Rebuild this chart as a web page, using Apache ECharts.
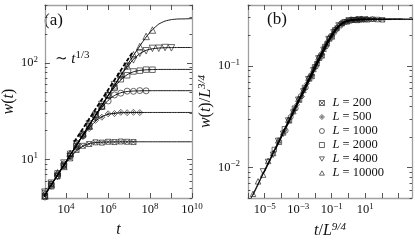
<!DOCTYPE html>
<html><head><meta charset="utf-8">
<script src="https://cdn.jsdelivr.net/npm/echarts@6/dist/echarts.min.js"></script>
<style>html,body{margin:0;padding:0;background:#fff}#c{width:415px;height:245px}</style>
</head><body><div id="c"></div>
<script>
// ---------- data ----------
const sizes = [200, 500, 1000, 2000, 4000, 10000];
const times = [1e3, 2e3, 4e3, 8e3, 1.6e4, 3.2e4, 6.4e4, 1.28e5, 2.56e5, 5.12e5, 1.024e6, 2.048e6, 4.096e6, 8.192e6, 1.6384e7, 3.2768e7, 6.5536e7, 1.31072e8, 2.62144e8, 5.24288e8, 1.048576e9];
const w200 = [4.2, 5.6, 6.7, 8.8, 10.3, 12.6, 13.9, 14.5, 15.1, 15.0, 15.3, 15.2, 15.4, 15.3, 15.2];
const w500 = [4.4, 5.3, 7.1, 8.6, 11.4, 13.7, 17.8, 21.0, 25.5, 27.5, 29.8, 30.0, 30.9, 30.6, 30.9, 30.7];
const w1000 = [4.1, 5.6, 6.8, 9.0, 10.9, 14.4, 17.6, 23.0, 27.8, 35.3, 40.5, 46.8, 48.8, 51.2, 51.0, 51.9, 51.6];
const w2000 = [4.5, 5.3, 7.2, 8.6, 11.5, 13.8, 18.4, 22.3, 29.4, 35.8, 46.5, 55.4, 68.0, 74.8, 81.9, 83.5, 85.6, 85.4];
const w4000 = [4.6, 5.7, 6.7, 9.2, 10.8, 14.6, 17.5, 23.4, 28.3, 37.3, 45.7, 59.8, 72.6, 92.8, 108.0, 126.5, 134.3, 142.0, 142.5, 145.0, 144.0];
const w10000 = [4.2, 5.5, 7.3, 8.5, 11.6, 13.9, 18.5, 22.2, 29.6, 36.0, 47.5, 58.2, 76.5, 93.6, 122.0, 148.5, 189.0, 220.0];

const fitTimes = [2.5e2, 5e2, 1e3, 2e3, 4e3, 8e3, 1.6e4, 3.2e4, 6.4e4, 1.28e5, 2.56e5, 5.12e5, 1.024e6, 2.048e6, 4.096e6, 8.192e6, 1.6384e7, 3.2768e7, 6.5536e7, 1.31072e8, 2.62144e8, 5.24288e8, 1.048576e9, 2.097152e9, 4.194304e9, 8.388608e9, 1e10];
const fit200 = [2.67, 3.38, 4.29, 5.44, 6.86, 8.57, 10.49, 12.34, 13.77, 14.63, 15.01, 15.14, 15.22, 15.26, 15.28, 15.29, 15.3, 15.3, 15.3, 15.3, 15.3, 15.3, 15.3, 15.3, 15.3, 15.3, 15.3];
const fit500 = [2.67, 3.38, 4.30, 5.46, 6.92, 8.78, 11.11, 14.01, 17.48, 21.35, 25.04, 27.84, 29.49, 30.21, 30.6, 30.72, 30.77, 30.8, 30.8, 30.8, 30.8, 30.8, 30.8, 30.8, 30.8, 30.8, 30.8];
const fit1000 = [2.67, 3.38, 4.30, 5.46, 6.93, 8.79, 11.15, 14.14, 17.91, 22.59, 28.24, 34.69, 41.09, 46.15, 49.27, 50.77, 51.34, 51.6, 51.72, 51.77, 51.8, 51.8, 51.8, 51.8, 51.8, 51.8, 51.8];
const fit2000 = [2.67, 3.38, 4.30, 5.46, 6.93, 8.79, 11.16, 14.16, 17.96, 22.77, 28.81, 36.40, 45.65, 56.28, 66.97, 75.73, 81.3, 84.0, 85.2, 85.7, 85.9, 86, 86, 86, 86, 86, 86];
const fit4000 = [2.67, 3.38, 4.30, 5.46, 6.93, 8.79, 11.16, 14.16, 17.97, 22.8, 28.9, 36.6, 46.48, 58.8, 73.8, 91.3, 109.6, 125.1, 135.7, 140.8, 143.2, 144.3, 144.8, 145, 145, 145, 145];
const fit10000 = [2.67, 3.38, 4.30, 5.46, 6.93, 8.79, 11.16, 14.16, 17.97, 22.8, 28.9, 36.7, 46.6, 59.17, 75.0, 95.0, 120.1, 150.1, 186.1, 222, 253.7, 272.7, 282.2, 286.3, 287.1, 288.6, 288.8];

const dashTimes = [2.5e4, 1.5e7];
const dashW = [15.3, 130];

// axis ticks (decade exponents) and labels
const xMajorA = [3, 4, 5, 6, 7, 8, 9, 10];
const xLabelA = [4, 6, 8, 10];
const yMajorA = [1, 2];
const yMinorA = [4, 5, 6, 7, 8, 9, 20, 30, 40, 50, 60, 70, 80, 90, 200, 300, 400];
const xMajorB = [-6, -5, -4, -3, -2, -1, 0, 1, 2, 3];
const xLabelB = [-5, -3, -1, 1];
const yMajorB = [-2, -1];
const yMinorB = [0.005, 0.006, 0.007, 0.008, 0.009, 0.02, 0.03, 0.04, 0.05, 0.06, 0.07, 0.08, 0.09, 0.2, 0.3, 0.4];

// ---------- build ----------
const LG = Math.log10;
const F = '"Liberation Serif", "DejaVu Serif", serif';
const wData = [w200, w500, w1000, w2000, w4000, w10000];
const fitData = [fit200, fit500, fit1000, fit2000, fit4000, fit10000];
const symbols = [
  'path://M0,0H10V10H0Z M0,0L10,10 M10,0L0,10',
  'path://M5,0L10,5L5,10L0,5Z M5,2.5V7.5 M2.5,5H7.5',
  'circle',
  'rect',
  'path://M0,0L10,0L5,8.66Z',
  'path://M5,0L10,8.66L0,8.66Z'
];
const symSizeA = [5, 6, 6, 5.5, 6.5, 6.5];
const symSizeB = [4.5, 5, 5, 4.5, 5.5, 5.5];

const frameColor = '#a0a0a0';
const tickColor = '#444';
const pow = e => `{b|10}{s|${e < 0 ? '\u2212' + (-e) : e}}`;
const labelRich = {
  b: { fontFamily: F, fontSize: 12.5, lineHeight: 16, color: '#111' },
  s: { fontFamily: F, fontSize: 9, lineHeight: 8, verticalAlign: 'top', color: '#111' }
};
const nameRich = {
  i: { fontFamily: F, fontSize: 16, fontStyle: 'italic', color: '#111', lineHeight: 18 },
  n: { fontFamily: F, fontSize: 16, color: '#111', lineHeight: 18 },
  s: { fontFamily: F, fontSize: 11, fontStyle: 'italic', color: '#111', lineHeight: 10, verticalAlign: 'top' }
};

function xAxes(g, min, max, majors, labels, name) {
  return [
    { type: 'value', gridIndex: g, min, max, position: 'bottom',
      axisLine: { show: true, lineStyle: { color: frameColor, width: 1.3 } },
      axisTick: { show: true, inside: true, length: 5, customValues: majors, lineStyle: { color: tickColor, width: 0.9 } },
      axisLabel: { show: true, margin: 4, customValues: labels, formatter: v => pow(v), rich: labelRich },
      splitLine: { show: false },
      name, nameLocation: 'middle', nameGap: 20, nameTextStyle: { rich: nameRich } },
    { type: 'value', gridIndex: g, min, max, position: 'top',
      axisLine: { show: true, lineStyle: { color: frameColor, width: 1.3 } },
      axisTick: { show: true, inside: true, length: 5, customValues: majors, lineStyle: { color: tickColor, width: 0.9 } },
      axisLabel: { show: false }, splitLine: { show: false } }
  ];
}
function yAxes(g, min, max, majors, minors, name, nameGap, labelMargin) {
  const mk = (pos, ticks, len, withLabel, line) => ({
    type: 'value', gridIndex: g, min, max, position: pos,
    axisLine: { show: line, onZero: false, lineStyle: { color: frameColor, width: 1.3 } },
    axisTick: { show: true, inside: true, length: len, customValues: ticks, lineStyle: { color: tickColor, width: 0.9 } },
    axisLabel: withLabel ? { show: true, margin: labelMargin, customValues: majors, formatter: v => pow(v), rich: labelRich } : { show: false },
    splitLine: { show: false }
  });
  const main = mk('left', majors, 5, true, true);
  main.name = name; main.nameLocation = 'middle'; main.nameGap = nameGap; main.nameRotate = 90;
  main.nameTextStyle = { rich: nameRich };
  const mnr = minors.map(LG);
  return [main, mk('left', mnr, 2.5, false, false), mk('right', majors, 5, false, true), mk('right', mnr, 2.5, false, false)];
}

const xAxis = [
  ...xAxes(0, 3, 10, xMajorA, xLabelA, '{i|t}'),
  ...xAxes(1, -6, 3.8, xMajorB, xLabelB, '{i|t}{n|/}{i|L}{s|9/4}')
];
const yAxis = [
  ...yAxes(0, LG(4), LG(400), yMajorA, yMinorA, '{i|w}{n|(}{i|t}{n|)}', 11, 7),
  ...yAxes(1, LG(0.005), LG(0.4), yMajorB, yMinorB, '{i|w}{n|(}{i|t}{n|)/}{i|L}{s|3/4}', 3, 8)
];

const hollow = { color: 'rgba(0,0,0,0)', borderColor: '#222', borderWidth: 0.85 };
const series = [];
sizes.forEach((L, i) => {
  const lx = 2.25 * LG(L), ly = 0.75 * LG(L);
  const w = wData[i];
  const ptsA = w.map((v, k) => [LG(times[k]), LG(v)]);
  const ptsB = w.map((v, k) => [LG(times[k]) - lx, LG(v) - ly]);
  const fitA = fitData[i].map((v, k) => [LG(fitTimes[k]), LG(v)]);
  const fitB = fitData[i].map((v, k) => [LG(fitTimes[k]) - lx, LG(v) - ly]);
  series.push({ type: 'scatter', name: String(L), xAxisIndex: 0, yAxisIndex: 0, data: ptsA,
    symbol: symbols[i], symbolSize: symSizeA[i], itemStyle: hollow, z: 2 });
  series.push({ type: 'scatter', name: String(L), xAxisIndex: 2, yAxisIndex: 4, data: ptsB,
    symbol: symbols[i], symbolSize: symSizeB[i], itemStyle: hollow, z: 2 });
  series.push({ type: 'line', name: 'fitA' + L, xAxisIndex: 0, yAxisIndex: 0, data: fitA,
    symbol: 'none', smooth: 0.2, lineStyle: { color: '#000', width: 0.9 }, z: 3 });
  series.push({ type: 'line', name: 'fitB' + L, xAxisIndex: 2, yAxisIndex: 4, data: fitB,
    symbol: 'none', smooth: 0.2, lineStyle: { color: '#000', width: 0.9 }, z: 3 });
});
series.push({ type: 'line', name: 'power', xAxisIndex: 0, yAxisIndex: 0,
  data: dashTimes.map((t, k) => [LG(t), LG(dashW[k])]), symbol: 'none',
  lineStyle: { color: '#000', width: 1.8, type: [4, 2] }, z: 4 });

const chart = echarts.init(document.getElementById('c'), null, { renderer: 'canvas' });
chart.setOption({
  animation: false,
  backgroundColor: '#fff',
  grid: [
    { left: 33, top: 5, width: 159, height: 193 },
    { left: 248, top: 5, width: 164, height: 193 }
  ],
  xAxis, yAxis, series,
  legend: {
    data: sizes.map(String), orient: 'vertical', left: 314, top: 91,
    itemWidth: 5, itemHeight: 5, itemGap: 0, selectedMode: false,
    itemStyle: { color: 'rgba(0,0,0,0)', borderColor: '#222', borderWidth: 0.85 },
    formatter: n => `{i|L} = ${n}`,
    textStyle: { fontFamily: F, fontSize: 12.5, color: '#111', lineHeight: 14, padding: [0, 0, 0, 3],
      rich: { i: { fontFamily: F, fontSize: 12.5, fontStyle: 'italic', color: '#111', lineHeight: 14 } } }
  },
  graphic: [
    { type: 'text', x: 44, y: 12, style: { text: '(a)', fontFamily: F, fontSize: 17, fill: '#111' } },
    { type: 'text', x: 267, y: 11, style: { text: '(b)', fontFamily: F, fontSize: 17, fill: '#111' } },
    { type: 'text', x: 55, y: 50, style: { text: '{n|\u223C }{i|t}{s|1/3}', rich: {
      n: { fontFamily: F, fontSize: 15, fill: '#111', lineHeight: 19 },
      i: { fontFamily: F, fontSize: 15, fontStyle: 'italic', fill: '#111', lineHeight: 19 },
      s: { fontFamily: F, fontSize: 11, fill: '#111', lineHeight: 11, verticalAlign: 'top' } } } }
  ]
});
</script></body></html>
